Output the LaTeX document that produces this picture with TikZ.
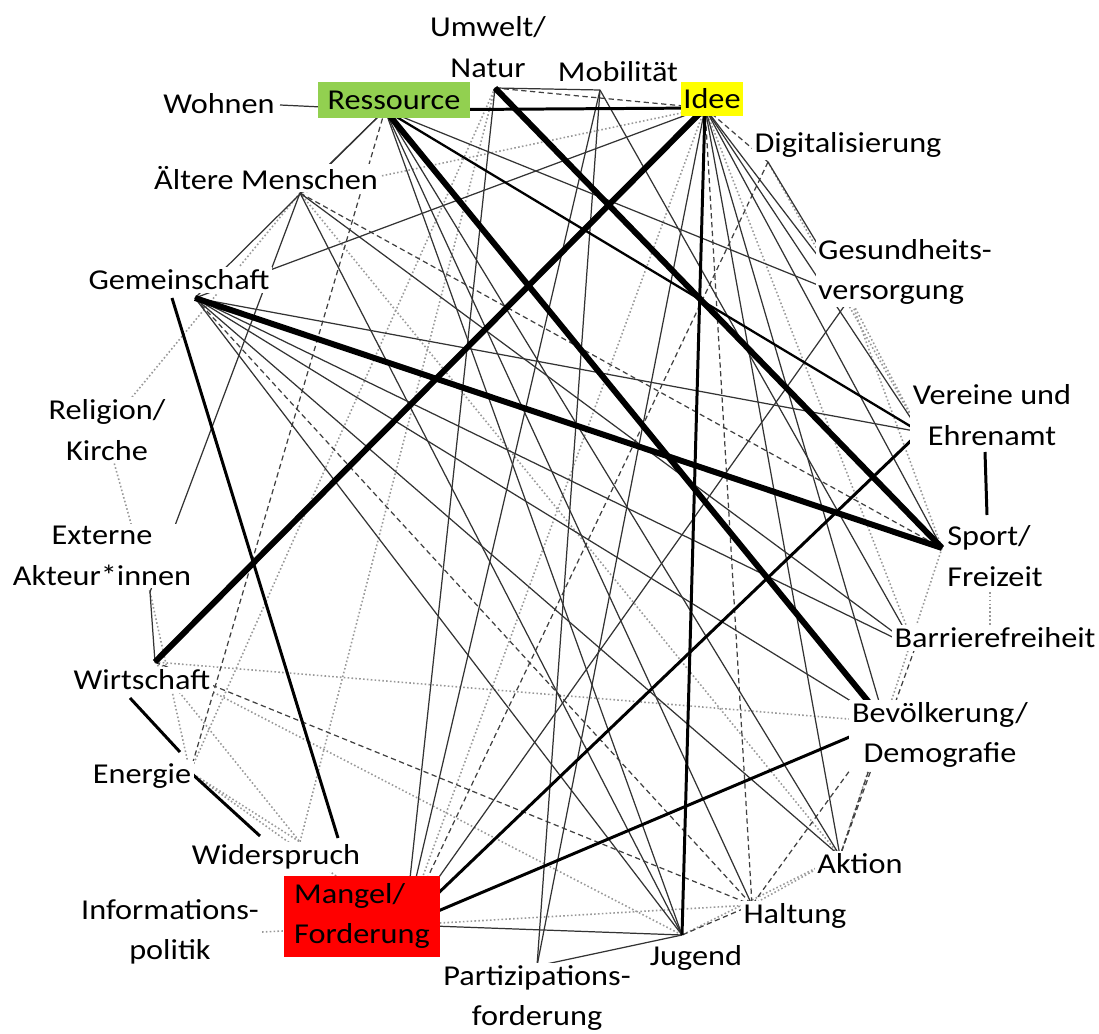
\documentclass[tikz,border=0pt]{standalone}
\usepackage{fontspec}
\setmainfont{Carlito}[FakeStretch=1.12]
\usepackage{xcolor}
\definecolor{ressgreen}{HTML}{92D050}
\definecolor{ideeyellow}{HTML}{FFFF00}
\definecolor{mangelred}{HTML}{FF0000}

\tikzset{
  lbl/.style={fill=white,inner sep=1.5pt,align=center,font=\fontsize{16.4}{23}\selectfont},
  strong/.style={line width=3.4pt},
  medium/.style={line width=1.7pt},
  plain/.style={line width=0.7pt,black!80},
  dashedge/.style={line width=0.7pt,black!75,dash pattern=on 3pt off 2pt},
  dotedge/.style={line width=0.9pt,black!40,dash pattern=on 0.9pt off 1.3pt}
}

\begin{document}
\begin{tikzpicture}[x=0.02cm,y=-0.02cm]
    \useasboundingbox (0,0) rectangle (1099,1034);
    % points where the edges meet
    \coordinate (umw) at (495,88);
    \coordinate (mob) at (600,90);
    \coordinate (idee) at (705,108);
    \coordinate (ress) at (385,110);
    \coordinate (wohn) at (280,105);
    \coordinate (digi) at (768,162);
    \coordinate (aelt) at (300,193);
    \coordinate (ges) at (850,298);
    \coordinate (gem) at (195,298);
    \coordinate (gemb) at (172,298);
    \coordinate (ver) at (920,432);
    \coordinate (verb) at (985,452);
    \coordinate (rel) at (105,430);
    \coordinate (ext) at (150,592);
    \coordinate (spo) at (942,548);
    \coordinate (spot) at (987,515);
    \coordinate (spob) at (990,592);
    \coordinate (bar) at (915,648);
    \coordinate (bart) at (990,626);
    \coordinate (wir) at (155,662);
    \coordinate (wirb) at (130,698);
    \coordinate (bev) at (885,722);
    \coordinate (ene) at (190,772);
    \coordinate (enet) at (180,752);
    \coordinate (akt) at (840,856);
    \coordinate (wid) at (300,842);
    \coordinate (widl) at (260,836);
    \coordinate (widr) at (338,838);
    \coordinate (man) at (405,925);
    \coordinate (inf) at (262,932);
    \coordinate (hal) at (752,905);
    \coordinate (jug) at (682,935);
    \coordinate (par) at (537,966);

    % edges
    \foreach \a/\b in {idee/man, idee/aelt, idee/bar, digi/ver, umw/ene, umw/wid, wir/bev, wir/jug,
        wir/wid, ext/ene, rel/ext, aelt/rel, inf/man, man/hal, spob/bart, spo/akt, ges/ver, ges/spo,
        akt/hal, akt/jug, ene/wid, ene/man, aelt/akt}
      \draw[dotedge] (\a) -- (\b);
    \foreach \a/\b in {idee/hal, idee/digi, digi/man, umw/idee, ress/ene, gem/hal, wir/hal, aelt/spo,
        bev/akt, bev/hal, hal/jug, bar/akt}
      \draw[dashedge] (\a) -- (\b);
    \foreach \a/\b in {wohn/ress, ress/gem, ress/aelt, ress/ges, ress/jug, ress/hal, ress/akt, idee/ges,
        idee/gem, idee/ver, idee/spo, idee/bev, idee/akt, idee/par, digi/ges, mob/par, mob/man, mob/bar,
        umw/man, umw/mob, gem/bev, gem/akt, gem/bar, gem/ver, gem/jug, aelt/ext, aelt/bar, aelt/jug,
        ges/man, man/jug, par/jug, ext/wir}
      \draw[plain] (\a) -- (\b);
    \draw[line width=1.3pt] (ress) -- (ver);
    \foreach \a/\b in {ress/idee, idee/jug, gemb/widr, man/ver, man/bev, wirb/enet, ene/widl, verb/spot}
      \draw[medium] (\a) -- (\b);
    \foreach \a/\b in {ress/bev, umw/spo, idee/wir, gem/spo}
      \draw[strong] (\a) -- (\b);

    % labels
    \node[lbl] (umwL) at (488,47) {Umwelt/\\Natur};
    \node[lbl] (mobL) at (618,72) {Mobilität};
    \node[lbl,fill=ideeyellow,minimum width=1.18cm,minimum height=0.68cm] (ideeL) at (712,99) {Idee};
    \node[lbl,fill=ressgreen,minimum width=3.04cm,minimum height=0.72cm] (ressL) at (394,100) {Ressource};
    \node[lbl] (wohnL) at (219,104) {Wohnen};
    \node[lbl] (digiL) at (848,145) {Digitalisierung};
    \node[lbl] (aeltL) at (266,178) {Ältere Menschen};
    \node[lbl,align=left] (gesL) at (905,272) {Gesundheits-\\versorgung};
    \node[lbl] (gemL) at (179,280) {Gemeinschaft};
    \node[lbl] (verL) at (992,415) {Vereine und\\Ehrenamt};
    \node[lbl] (relL) at (107,430) {Religion/\\Kirche};
    \node[lbl] (extL) at (102,556) {Externe\\Akteur*innen};
    \node[lbl,align=left] (spoL) at (995,556) {Sport/\\Freizeit};
    \node[lbl] (barL) at (995,638) {Barrierefreiheit};
    \node[lbl] (wirL) at (142,680) {Wirtschaft};
    \node[lbl] (bevL) at (940,735) {Bevölkerung/\\Demografie};
    \node[lbl] (eneL) at (142,776) {Energie};
    \node[lbl] (aktL) at (860,864) {Aktion};
    \node[lbl] (widL) at (276,857) {Widerspruch};
    \node[lbl,fill=mangelred,align=left,minimum width=3.12cm,minimum height=1.62cm] (manL) at (362,916) {Mangel/\\Forderung};
    \node[lbl] (infL) at (170,932) {Informations-\\politik};
    \node[lbl] (halL) at (795,916) {Haltung};
    \node[lbl] (jugL) at (696,958) {Jugend};
    \node[lbl] (parL) at (537,998) {Partizipations-\\forderung};
\end{tikzpicture}
\end{document}
